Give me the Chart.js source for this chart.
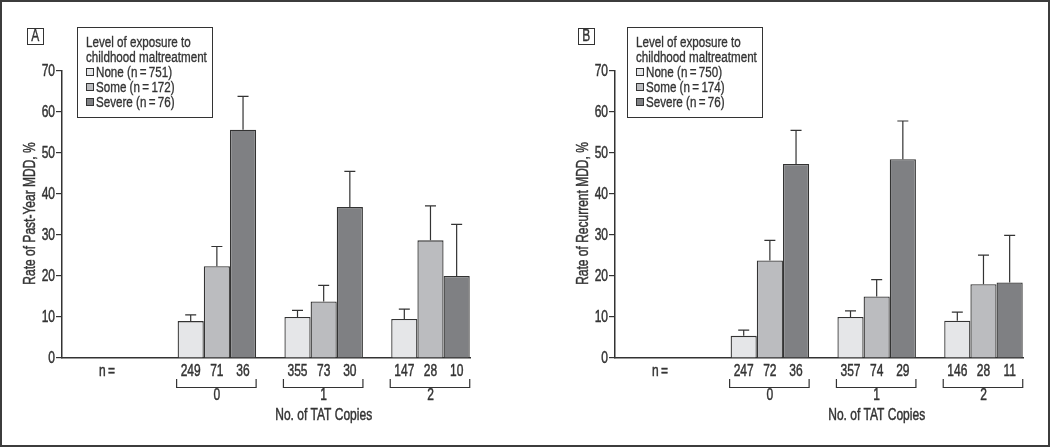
<!DOCTYPE html>
<html>
<head>
<meta charset="utf-8">
<script src="https://cdn.jsdelivr.net/npm/chart.js@4.4.1/dist/chart.umd.min.js"></script>
<style>
  html, body { margin: 0; padding: 0; background: #fff; }
  #frame { position: relative; width: 1050px; height: 448px; overflow: hidden;
    font-family: "Liberation Sans", Arial, sans-serif; color: #333; }
  #border { position: absolute; left: 0; top: 0; width: 1050px; height: 447px; box-sizing: border-box;
    border: 2px solid #3c3c3c; pointer-events: none; z-index: 5; }
  .panel { position: absolute; top: 0; width: 525px; height: 448px; }
  .panel canvas { position: absolute; left: 0; top: 0; }
  .plabel { position: absolute; top: 28px; width: 17px; height: 17px; box-sizing: border-box;
    border: 1.5px solid #333; font-size: 16px; line-height: 14px; text-align: center; background: #fff;
    -webkit-text-stroke: 0.35px #333; }
  .plabel span { display: inline-block; transform: scaleX(0.75); }
  .legend { position: absolute; top: 27px; width: 136px; height: 91px; box-sizing: border-box;
    border: 1.5px solid #333; padding: 6px 0 0 8px; font-size: 15.5px; line-height: 15px; background: #fff;
    white-space: nowrap; -webkit-text-stroke: 0.35px #333; }
  .legend .ln { height: 15px; display: flex; align-items: center; }
  .legend .t { display: inline-block; transform: scaleX(0.75); transform-origin: 0 50%; }
  .legend .sw { width: 8px; height: 8px; box-sizing: border-box; border: 1px solid #333; margin-right: 2px; flex: none; }
</style>
</head>
<body>
<div id="frame">
  <div class="panel" style="left:0">
    <canvas id="cA" width="525" height="448"></canvas>
    <div class="plabel" style="left:27px"><span>A</span></div>
    <div class="legend" id="legA" style="left:77px"></div>
  </div>
  <div class="panel" style="left:525px">
    <canvas id="cB" width="525" height="448"></canvas>
    <div class="plabel" style="left:53px"><span>B</span></div>
    <div class="legend" id="legB" style="left:102px"></div>
  </div>
  <div id="border"></div>
</div>
<script>
// ---------- data ----------
const categories = ['0', '1', '2'];
const seriesNames = ['None', 'Some', 'Severe'];
const legendTitle = ['Level of exposure to', 'childhood maltreatment'];
const xAxisTitle = 'No. of TAT Copies';
const nPrefix = 'n\u2009=';

// Panel A: Past-year MDD
const yTitleA = 'Rate of Past-Year MDD, %';
const totalsA = [751, 172, 76];
const noneA = [9.0, 10.0, 9.5];
const someA = [22.4, 13.8, 28.7];
const severeA = [55.7, 36.8, 20.0];
const noneErrA = [10.5, 11.6, 11.9];
const someErrA = [27.2, 17.7, 37.1];
const severeErrA = [63.8, 45.5, 32.6];
const noneNA = [249, 355, 147];
const someNA = [71, 73, 28];
const severeNA = [36, 30, 10];

// Panel B: Recurrent MDD
const yTitleB = 'Rate of Recurrent MDD, %';
const totalsB = [750, 174, 76];
const noneB = [5.4, 10.0, 9.1];
const someB = [23.8, 15.0, 18.0];
const severeB = [47.3, 48.5, 18.4];
const noneErrB = [6.8, 11.5, 11.2];
const someErrB = [28.7, 19.1, 25.1];
const severeErrB = [55.5, 57.8, 29.9];
const noneNB = [247, 357, 146];
const someNB = [72, 74, 28];
const severeNB = [36, 29, 11];

const yTicks = [0, 10, 20, 30, 40, 50, 60, 70];

// ---------- styles ----------
const FONT = '"Liberation Sans", Arial, sans-serif';
const FSIZE = 16;
const SX = 0.75; // horizontal condensing of text
const INK = '#333333';
const fills = ['#e5e6e8', '#bbbcbf', '#7f8083'];

Chart.defaults.font.family = FONT;
Chart.defaults.font.size = 14;
Chart.defaults.color = INK;

function buildLegend(id, totals) {
  const el = document.getElementById(id);
  let html = legendTitle.map(t => '<div class="ln"><span class="t">' + t + '</span></div>').join('');
  seriesNames.forEach((s, i) => {
    html += '<div class="ln"><span class="sw" style="background:' + fills[i] + '"></span><span class="t">' +
      s + ' (n\u2009=\u2009' + totals[i] + ')</span></div>';
  });
  el.innerHTML = html;
}

function txt(ctx, s, x, y, align, rot) {
  ctx.save();
  ctx.translate(x, y);
  if (rot) ctx.rotate(rot);
  ctx.scale(SX, 1);
  ctx.textAlign = align;
  ctx.fillText(s, 0, 0);
  ctx.lineWidth = 0.45;
  ctx.strokeText(s, 0, 0);
  ctx.restore();
}

const annotPlugin = {
  id: 'annot',
  afterDatasetsDraw(chart) {
    const ctx = chart.ctx;
    const ys = chart.scales.y, xs = chart.scales.x;
    const area = chart.chartArea;
    ctx.save();
    ctx.strokeStyle = INK;
    ctx.lineWidth = 1.2;
    // error bars
    chart.data.datasets.forEach((ds, di) => {
      const meta = chart.getDatasetMeta(di);
      meta.data.forEach((bar, i) => {
        const top = ys.getPixelForValue(ds.errUpper[i]);
        ctx.beginPath();
        ctx.moveTo(bar.x, bar.y);
        ctx.lineTo(bar.x, top);
        ctx.moveTo(bar.x - 5.5, top);
        ctx.lineTo(bar.x + 5.5, top);
        ctx.stroke();
      });
    });
    ctx.fillStyle = INK;
    ctx.font = FSIZE + 'px ' + FONT;
    ctx.textBaseline = 'middle';
    // y tick labels
    ys.ticks.forEach(t => {
      txt(ctx, String(t.value), area.left - 7, ys.getPixelForValue(t.value) + 0.5, 'right');
    });
    // y title
    txt(ctx, chart.options.yTitleText, area.left - 31.5, (area.top + area.bottom) / 2 - 1, 'center', -Math.PI / 2);
    // n labels
    const nY = area.bottom + 13.5;
    txt(ctx, nPrefix, xs.getPixelForValue(0) - 3, nY, 'center');
    chart.data.datasets.forEach((ds, di) => {
      const meta = chart.getDatasetMeta(di);
      meta.data.forEach((bar, i) => {
        txt(ctx, String(ds.nValues[i]), bar.x, nY, 'center');
      });
    });
    // brackets and group labels
    ctx.lineWidth = 1.2;
    const first = chart.getDatasetMeta(0).data;
    const last = chart.getDatasetMeta(chart.data.datasets.length - 1).data;
    const bTop = area.bottom + 21, bBot = area.bottom + 29.5;
    categories.forEach((c, i) => {
      const l = first[i].x - first[i].width / 2 - 1;
      const r = last[i].x + last[i].width / 2;
      ctx.beginPath();
      ctx.moveTo(l, bTop); ctx.lineTo(l, bBot); ctx.lineTo(r, bBot); ctx.lineTo(r, bTop);
      ctx.stroke();
      txt(ctx, c, xs.getPixelForValue(i + 1), area.bottom + 38, 'center');
    });
    txt(ctx, xAxisTitle, xs.getPixelForValue(2), area.bottom + 58, 'center');
    ctx.restore();
  }
};

function makeChart(canvasId, yTitle, vals, errs, ns, leftPad, rightPad) {
  const datasets = seriesNames.map((s, si) => ({
    label: s,
    data: vals[si].map((v, i) => ({ x: i + 1, y: v })),
    errUpper: errs[si],
    nValues: ns[si],
    backgroundColor: fills[si],
    borderColor: INK,
    borderWidth: 1.3,
    borderSkipped: 'bottom',
    barPercentage: 1.0,
    categoryPercentage: 0.735
  }));
  return new Chart(document.getElementById(canvasId), {
    type: 'bar',
    data: { datasets },
    options: {
      yTitleText: yTitle,
      responsive: false,
      animation: false,
      devicePixelRatio: 1,
      layout: { padding: { left: leftPad, right: rightPad, top: 71, bottom: 0 } },
      plugins: { legend: { display: false }, tooltip: { enabled: false } },
      scales: {
        x: {
          type: 'linear',
          offset: false,
          min: -0.45,
          max: 3.37,
          grid: { display: false },
          ticks: { display: false },
          border: { display: true, color: INK, width: 1.5 },
          afterBuildTicks: s => { s.ticks = categories.map((c, i) => ({ value: i + 1 })); },
          afterFit: s => { s.height = 90; }
        },
        y: {
          min: 0,
          max: 70,
          afterBuildTicks: s => { s.ticks = yTicks.map(v => ({ value: v })); },
          ticks: { display: false },
          grid: { display: true, drawOnChartArea: false, drawTicks: true, tickLength: 6, color: INK, lineWidth: 1.2 },
          border: { display: true, color: INK, width: 1.5 },
          title: { display: false },
          afterFit: s => { s.width = 40; }
        }
      }
    },
    plugins: [annotPlugin]
  });
}

buildLegend('legA', totalsA);
buildLegend('legB', totalsB);
makeChart('cA', yTitleA, [noneA, someA, severeA], [noneErrA, someErrA, severeErrA], [noneNA, someNA, severeNA], 22, 55);
makeChart('cB', yTitleB, [noneB, someB, severeB], [noneErrB, someErrB, severeErrB], [noneNB, someNB, severeNB], 50, 27);
</script>
</body>
</html>
